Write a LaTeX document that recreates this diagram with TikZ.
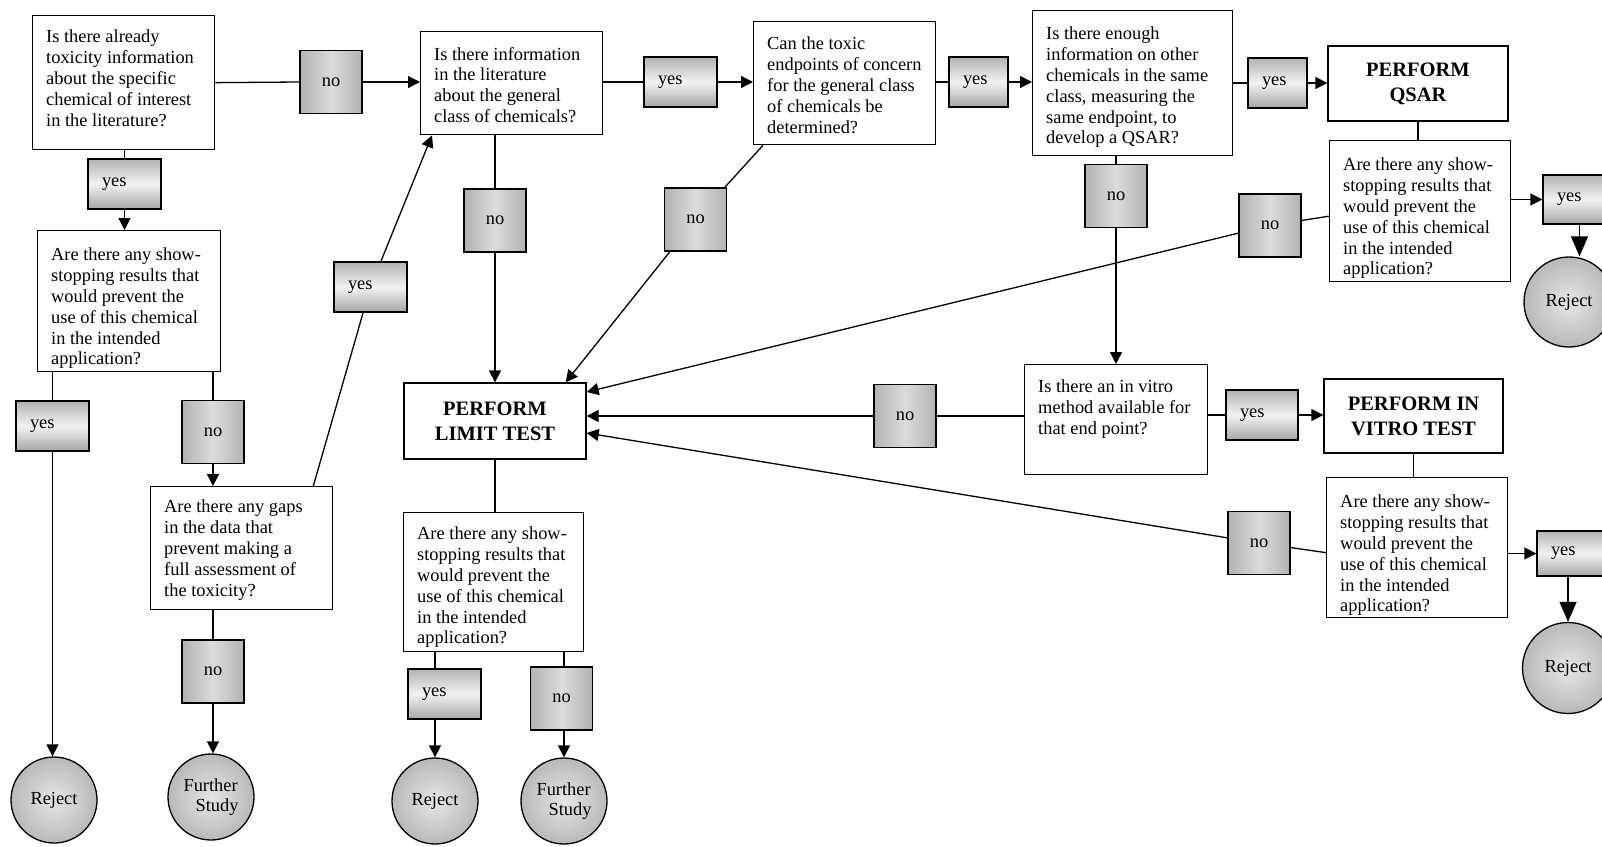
\documentclass[tikz,border=0pt]{standalone}
\usepackage{fontspec}
\setmainfont{Liberation Serif}
\usetikzlibrary{arrows.meta,calc}
\newcommand\txtfont{\fontsize{18.4}{20.8}\selectfont}
\newcommand\actfont{\fontsize{20.5}{25}\selectfont\bfseries}
\tikzset{
  qb/.style={draw, line width=1.3pt, fill=white, inner sep=0pt, anchor=north west},
  qt/.style={anchor=north west, align=left, inner sep=0pt, font=\txtfont},
  act/.style={draw, line width=1.3pt, fill=white, align=center, inner sep=0pt, font=\actfont},
  ylab/.style={draw, line width=1.3pt, inner xsep=14pt, inner ysep=0pt, text width=45pt,
    align=left, minimum height=50pt, top color=gray!60, bottom color=gray!70,
    middle color=gray!10, font=\txtfont},
  nlab/.style={draw, line width=1.3pt, inner sep=0pt, minimum width=62pt, minimum height=63pt,
    left color=gray!60, right color=gray!60, middle color=gray!28, font=\txtfont},
  term/.style={circle, draw, line width=1.3pt, inner sep=0pt, minimum size=86pt,
    inner color=gray!20, outer color=gray!55, font=\txtfont, align=left},
  conn/.style={line width=1.3pt},
  arr/.style={conn, -{Triangle[length=12pt,width=12pt]}},
  bigarr/.style={conn, -{Triangle[length=20pt,width=17pt]}}
}
\newcommand\mkbox[7]{%
  \node[qb, minimum width=#4pt, minimum height=#5pt] (#1) at (#2,#3) {};
  \node[qt] (#1t) at ([shift={(14pt,-#6pt)}]#1.north west) {#7};}
\begin{document}
\begin{tikzpicture}[x=1pt,y=-1pt]
\useasboundingbox (0,0) rectangle (1602,846);
\clip (0,0) rectangle (1602,846);
\fill[white] (0,0) rectangle (1602,846);

% question boxes
\mkbox{b1}{32}{15}{182}{134}{15}{Is there already\\toxicity information\\about the specific\\chemical of interest\\in the literature?}
\mkbox{s1}{37}{230}{183}{141}{18}{Are there any show-\\stopping results that\\would prevent the\\use of this chemical\\in the intended\\application?}
\mkbox{gaps}{150}{486}{182}{123}{14}{Are there any gaps\\in the data that\\prevent making a\\full assessment of\\the toxicity?}
\mkbox{b2}{420}{31}{182}{103}{16}{Is there information\\in the literature\\about the general\\class of chemicals?}
\mkbox{b3}{753}{21}{182}{123}{16}{Can the toxic\\endpoints of concern\\for the general class\\of chemicals be\\determined?}
\mkbox{b4}{1032}{10}{200}{145}{17}{Is there enough\\information on other\\chemicals in the same\\class, measuring the\\same endpoint, to\\develop a QSAR?}
\mkbox{sQ}{1329}{140}{181}{141}{18}{Are there any show-\\stopping results that\\would prevent the\\use of this chemical\\in the intended\\application?}
\mkbox{ivq}{1024}{364}{183}{110}{16}{Is there an in vitro\\method available for\\that end point?}
\mkbox{sV}{1326}{477}{181}{140}{18}{Are there any show-\\stopping results that\\would prevent the\\use of this chemical\\in the intended\\application?}
\mkbox{sL}{403}{512}{180}{139}{15}{Are there any show-\\stopping results that\\would prevent the\\use of this chemical\\in the intended\\application?}

% action boxes
\node[act, minimum width=180pt, minimum height=75pt] (qsar) at (1418,83.5) {PERFORM\\QSAR};
\node[act, minimum width=182pt, minimum height=76pt] (lim) at (495,421) {PERFORM\\LIMIT TEST};
\node[act, minimum width=179pt, minimum height=74pt] (ivt) at (1413.5,416) {PERFORM IN\\VITRO TEST};

% yes / no labels
\node[nlab] (ln1) at (331,82) {no};
\node[ylab] (ly1) at (124.5,184) {yes};
\node[ylab] (lyA) at (52.5,426) {yes};
\node[nlab] (lnA) at (213,432) {no};
\node[nlab] (lnB) at (213,671.5) {no};
\node[ylab] (lyB) at (370.5,287) {yes};
\node[nlab] (lnH) at (495,220.5) {no};
\node[ylab] (lyC) at (680.5,82) {yes};
\node[nlab] (lnC) at (695.5,219.5) {no};
\node[ylab, text width=31pt] (lyD) at (978.5,82) {yes};
\node[ylab, text width=31pt] (lyE) at (1277.5,83) {yes};
\node[nlab] (lnF) at (1116,196) {no};
\node[nlab] (lnD) at (1270,225.5) {no};
\node[ylab, minimum height=49pt] (lyF) at (1579.5,199.5) {yes};
\node[nlab] (lnE) at (905,416) {no};
\node[ylab, text width=44pt] (lyG) at (1262,415) {yes};
\node[nlab] (lnG) at (1259,543) {no};
\node[ylab, minimum height=45pt] (lyH) at (1573.5,553.5) {yes};
\node[ylab] (lyL) at (444.5,694) {yes};
\node[nlab] (lnL) at (561.5,698.5) {no};

% terminals
\node[term] (r1) at (54,800) {Reject};
\node[term] (fs1) at (211,797) {Further\\\hspace*{12pt}Study};
\node[term] (rL) at (435,801) {Reject};
\node[term] (fsL) at (564,801) {Further\\\hspace*{12pt}Study};
\node[term, minimum size=90pt] (rQ) at (1569,302) {Reject};
\node[term, minimum size=91pt] (rV) at (1568,668) {Reject};

% connectors
\draw[conn] (b1.east) -- (ln1.west);
\draw[arr] (ln1.east) -- (ln1 -| b2.west);
\draw[conn] (b1.south -| ly1) -- (ly1.north);
\draw[arr] (ly1.south) -- (ly1 |- s1.north);
\draw[conn] (s1.south -| lyA) -- (lyA.north);
\draw[arr] (lyA.south) -- (lyA.south |- r1.north);
\draw[conn] (s1.south -| lnA) -- (lnA.north);
\draw[arr] (lnA.south) -- (lnA |- gaps.north);
\draw[conn] (gaps.south -| lnB) -- (lnB.north);
\draw[arr] (lnB.south) -- (lnB.south |- fs1.north);
\draw[conn] ([xshift=-20pt]gaps.north east) -- (lyB);
\draw[arr] (lyB) -- ([xshift=12pt]b2.south west);
\draw[conn] (b2.south -| lnH) -- (lnH.north);
\draw[arr] (lnH.south) -- (lnH |- lim.north);
\draw[conn] (b2.east |- lyC) -- (lyC.west);
\draw[arr] (lyC.east) -- (lyC -| b3.west);
\draw[conn] ([xshift=10pt]b3.south west) -- (lnC);
\draw[arr] (lnC) -- ([xshift=-21pt]lim.north east);
\draw[conn] (b3.east |- lyD) -- (lyD.west);
\draw[arr] (lyD.east) -- (lyD -| b4.west);
\draw[conn] (b4.east |- lyE) -- (lyE.west);
\draw[arr] (lyE.east) -- (lyE -| qsar.west);
\draw[conn] (b4.south -| lnF) -- (lnF.north);
\draw[arr] (lnF.south) -- (lnF |- ivq.north);
\draw[conn] (qsar.south) -- (qsar.south |- sQ.north);
\draw[arr] (sQ.east |- lyF) -- (lyF.west);
\draw[bigarr] (lyF.south) -- (lyF.south |- rQ.north);
\draw[conn] ([yshift=-5pt]sQ.west) -- (lnD);
\draw[arr] (lnD) -- ([yshift=29pt]lim.east);
\draw[conn] (ivq.west |- lnE) -- (lnE.east);
\draw[arr] (lnE.west) -- (lnE -| lim.east);
\draw[conn] (ivq.east |- lyG) -- (lyG.west);
\draw[arr] (lyG.east) -- (lyG -| ivt.west);
\draw[conn] (ivt.south) -- (ivt.south |- sV.north);
\draw[arr] (sV.east |- lyH) -- (lyH.west);
\draw[bigarr] (lyH.south -| rV) -- (rV.north);
\draw[conn] ([yshift=-5pt]sV.west) -- (lnG);
\draw[arr] (lnG) -- ([yshift=-12pt]lim.east);
\draw[conn] (lim.south) -- (lim.south |- sL.north);
\draw[conn] (sL.south -| rL) -- (lyL.north -| rL);
\draw[arr] (lyL.south -| rL) -- (rL.north);
\draw[conn] (sL.south -| fsL) -- (lnL.north -| fsL);
\draw[arr] (lnL.south -| fsL) -- (fsL.north);
\end{tikzpicture}
\end{document}
